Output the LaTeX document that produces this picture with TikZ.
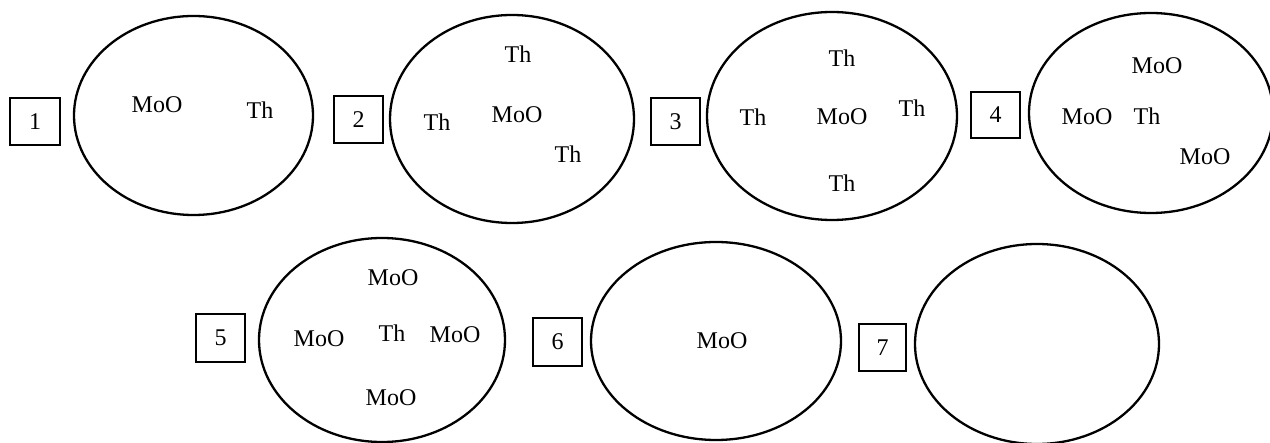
\documentclass[tikz,border=0pt]{standalone}
\usepackage{fontspec}
\setmainfont{Liberation Serif}
\usetikzlibrary{shapes.geometric}
\begin{document}
\begin{tikzpicture}[x=0.5pt,y=-0.5pt,
  ring/.style={draw,ellipse,line width=1.15pt,inner sep=0pt},
  numbox/.style={draw,rectangle,line width=1.1pt,inner sep=0pt,font=\fontsize{12}{14}\selectfont},
  lbl/.style={inner sep=0pt,font=\fontsize{12}{14}\selectfont}]
\useasboundingbox (0,0) rectangle (1270,443);
% ellipses
\node[ring,minimum width=119.5pt,minimum height=99.5pt] (e1) at (193.5,115.5) {};
\node[ring,minimum width=122pt,minimum height=104pt] (e2) at (512,119) {};
\node[ring,minimum width=125pt,minimum height=104pt] (e3) at (832,116) {};
\node[ring,minimum width=122pt,minimum height=100pt] (e4) at (1151,113) {};
\node[ring,minimum width=123pt,minimum height=102pt] (e5) at (382,340) {};
\node[ring,minimum width=125pt,minimum height=99pt] (e6) at (716,341) {};
\node[ring,minimum width=122pt,minimum height=100pt] (e7) at (1037,344) {};
% number boxes
\node[numbox,minimum width=25pt,minimum height=23.5pt] (b1) at (35,121.5) {1};
\node[numbox,minimum width=24.5pt,minimum height=23.5pt] (b2) at (358.5,119.5) {2};
\node[numbox,minimum width=24.5pt,minimum height=23.5pt] (b3) at (675.5,121.5) {3};
\node[numbox,minimum width=24.5pt,minimum height=23pt] (b4) at (995.5,115) {4};
\node[numbox,minimum width=24.5pt,minimum height=24pt] (b5) at (220.5,338) {5};
\node[numbox,minimum width=24.5pt,minimum height=24pt] (b6) at (557.5,342) {6};
\node[numbox,line width=0.7pt,minimum width=23.5pt,minimum height=23.5pt] (b7) at (882.5,347.5) {7};
% labels 1
\node[lbl] (t1a) at (157,105) {MoO};
\node[lbl] (t1b) at (260,110) {Th};
% labels 2
\node[lbl] (t2a) at (518,54) {Th};
\node[lbl] (t2b) at (437,122) {Th};
\node[lbl] (t2c) at (517,115) {MoO};
\node[lbl] (t2d) at (568,154) {Th};
% labels 3
\node[lbl] (t3a) at (842,58) {Th};
\node[lbl] (t3b) at (753,117) {Th};
\node[lbl] (t3c) at (842,117) {MoO};
\node[lbl] (t3d) at (912,108) {Th};
\node[lbl] (t3e) at (842,183) {Th};
% labels 4
\node[lbl] (t4a) at (1157,66) {MoO};
\node[lbl] (t4b) at (1087,117) {MoO};
\node[lbl] (t4c) at (1147,116) {Th};
\node[lbl] (t4d) at (1205,157) {MoO};
% labels 5
\node[lbl] (t5a) at (393,278) {MoO};
\node[lbl] (t5b) at (319,339) {MoO};
\node[lbl] (t5c) at (392,333) {Th};
\node[lbl] (t5d) at (455,335) {MoO};
\node[lbl] (t5e) at (391,398) {MoO};
% labels 6
\node[lbl] (t6a) at (722,341) {MoO};
\end{tikzpicture}
\end{document}
